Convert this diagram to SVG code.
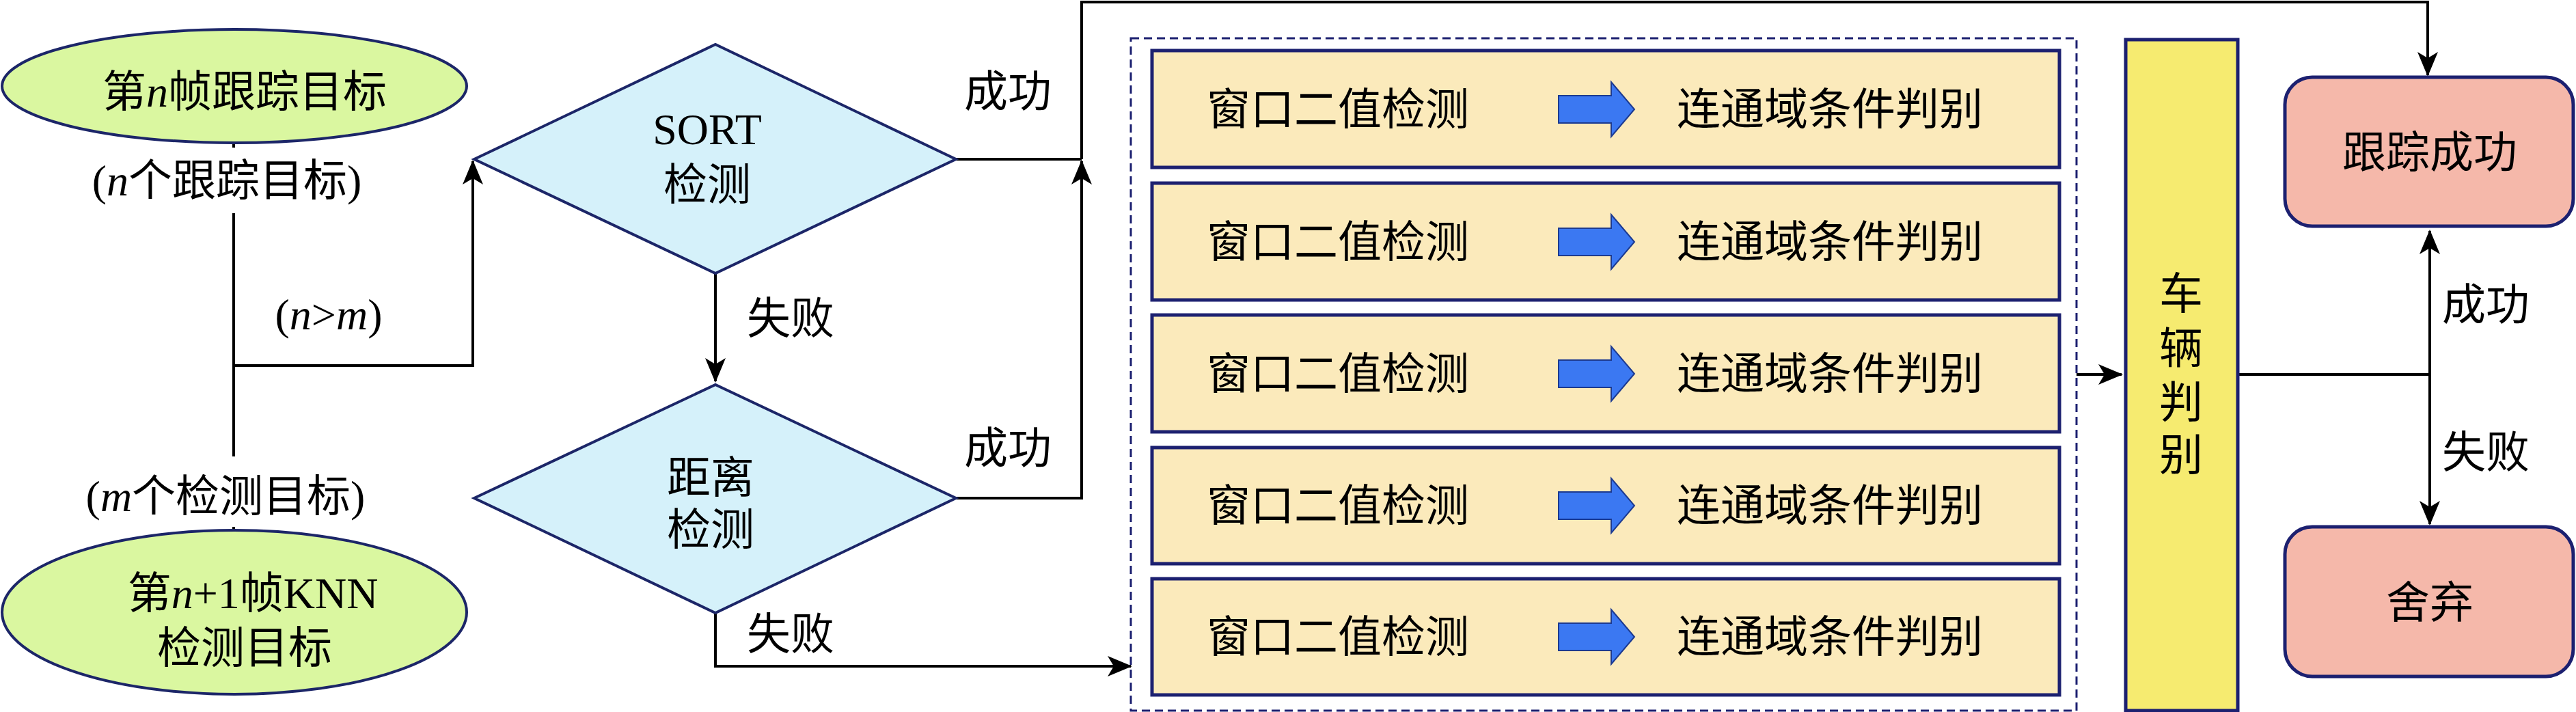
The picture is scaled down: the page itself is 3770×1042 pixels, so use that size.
<svg xmlns="http://www.w3.org/2000/svg" width="3770" height="1042" viewBox="0 0 3770 1042">
<style>
text{font-family:"Liberation Serif","Noto Sans CJK SC",serif;font-size:64px;fill:#000;text-anchor:middle}
.ln{fill:none;stroke:#000;stroke-width:4}
.ell{fill:#daf7a0;stroke:#1c2668;stroke-width:4}
.dia{fill:#d5f1fa;stroke:#1c2668;stroke-width:4}
.row{fill:#fbeabb;stroke:#1c2070;stroke-width:5}
.bar{fill:#f6eb70;stroke:#1c2070;stroke-width:5}
.res{fill:#f5b8aa;stroke:#1c2070;stroke-width:5}
.ba{fill:#3b78f2;stroke:#1c3a90;stroke-width:2}
</style>
<defs>
<marker id="ah" markerWidth="12" markerHeight="12" refX="11" refY="6" orient="auto" markerUnits="userSpaceOnUse" viewBox="0 0 12 12"><path d="M0,0 L12,6 L0,12 L3,6 z" fill="#000"/></marker>
<marker id="ahb" markerWidth="36" markerHeight="30" refX="34" refY="15" orient="auto" markerUnits="userSpaceOnUse"><path d="M0,0 L36,15 L0,30 L9,15 z" fill="#000"/></marker>
<symbol id="barrow" overflow="visible"><path class="ba" d="M0,-20 L77,-20 L77,-40 L111,0 L77,40 L77,20 L0,20 z"/></symbol>
</defs>
<g id="connectors">
<path class="ln" d="M342,209 V216 M342,312 V668 M342,771 V778"/>
<path class="ln" d="M342,535 H692 V236" marker-end="url(#ahb)"/>
<path class="ln" d="M1047,400 V558" marker-end="url(#ahb)"/>
<path class="ln" d="M1399,233 H1583"/>
<path class="ln" d="M1399,729 H1583 V236" marker-end="url(#ahb)"/>
<path class="ln" d="M1583,233 V3 H3553 V110" marker-end="url(#ahb)"/>
<path class="ln" d="M1047,897 V975 H1655" marker-end="url(#ahb)"/>
<path class="ln" d="M3039,548 H3105" marker-end="url(#ahb)"/>
<path class="ln" d="M3275,548 H3556"/>
<path class="ln" d="M3556,548 V338" marker-end="url(#ahb)"/>
<path class="ln" d="M3556,548 V767" marker-end="url(#ahb)"/>
<text x="1475" y="156">成功</text>
<text x="1475" y="678">成功</text>
<text x="1157" y="488">失败</text>
<text x="1157" y="950">失败</text>
<text x="3638" y="468">成功</text>
<text x="3638" y="684">失败</text>
<text x="481" y="482">(<tspan font-style="italic">n</tspan>&gt;<tspan font-style="italic">m</tspan>)</text>
</g>
<g id="ellipse-top">
<ellipse class="ell" cx="343" cy="126" rx="340" ry="83"/>
<text x="358" y="156">第<tspan font-style="italic">n</tspan>帧跟踪目标</text>
<text x="332" y="286">(<tspan font-style="italic">n</tspan>个跟踪目标)</text>
</g>
<g id="ellipse-bottom">
<text x="330" y="748">(<tspan font-style="italic">m</tspan>个检测目标)</text>
<ellipse class="ell" cx="343" cy="896" rx="340" ry="120"/>
<text x="370" y="890">第<tspan font-style="italic">n</tspan>+1帧KNN</text>
<text x="358" y="970">检测目标</text>
</g>
<g id="sort">
<path class="dia" d="M694,233 L1047,65 L1399,233 L1047,400 z"/>
<text x="1035" y="211">SORT</text>
<text x="1035" y="292">检测</text>
</g>
<g id="dist">
<path class="dia" d="M694,729 L1047,563 L1399,729 L1047,897 z"/>
<text x="1040" y="721">距离</text>
<text x="1040" y="797">检测</text>
</g>
<g id="window-group">
<rect x="1655" y="56" width="1384" height="984" fill="none" stroke="#1c2070" stroke-width="3" stroke-dasharray="12,7"/>
<g id="row1"><rect class="row" x="1686" y="74" width="1328" height="171"/><text x="1958" y="182">窗口二值检测</text><use href="#barrow" x="2281" y="160"/><text x="2678" y="182">连通域条件判别</text></g>
<g id="row2"><rect class="row" x="1686" y="268" width="1328" height="171"/><text x="1958" y="376">窗口二值检测</text><use href="#barrow" x="2281" y="354"/><text x="2678" y="376">连通域条件判别</text></g>
<g id="row3"><rect class="row" x="1686" y="461" width="1328" height="171"/><text x="1958" y="569">窗口二值检测</text><use href="#barrow" x="2281" y="547"/><text x="2678" y="569">连通域条件判别</text></g>
<g id="row4"><rect class="row" x="1686" y="655" width="1328" height="170"/><text x="1958" y="762">窗口二值检测</text><use href="#barrow" x="2281" y="740"/><text x="2678" y="762">连通域条件判别</text></g>
<g id="row5"><rect class="row" x="1686" y="847" width="1328" height="170"/><text x="1958" y="954">窗口二值检测</text><use href="#barrow" x="2281" y="932"/><text x="2678" y="954">连通域条件判别</text></g>
</g>
<g id="vehicle">
<rect class="bar" x="3111" y="58" width="164" height="982"/>
<text x="3192" y="452">车</text><text x="3192" y="532">辆</text><text x="3192" y="611">判</text><text x="3192" y="688">别</text>
</g>
<g id="success"><rect class="res" x="3344" y="113" width="422" height="218" rx="40"/><text x="3556" y="245">跟踪成功</text></g>
<g id="discard"><rect class="res" x="3344" y="771" width="422" height="219" rx="40"/><text x="3556" y="904">舍弃</text></g>
</svg>
